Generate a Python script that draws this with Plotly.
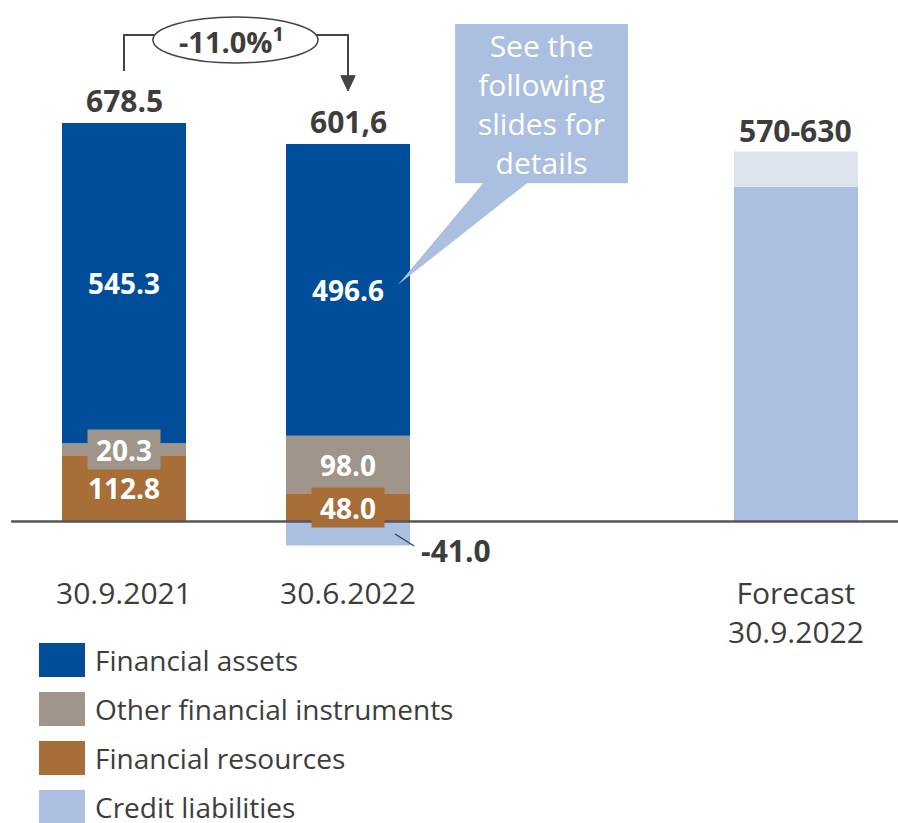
import plotly.graph_objects as go

# --- data -------------------------------------------------------------
categories = ["30.9.2021", "30.6.2022", "Forecast<br>30.9.2022"]
slots = [0, 1, 3]                      # x positions (gap before the forecast)

financial_resources = [112.8, 48.0]
other_instruments = [20.3, 98.0]
financial_assets = [545.3, 496.6]
credit_liabilities = [-41.0]           # only at 30.6.2022
forecast_low = 570
forecast_high = 630
total_labels = ["678.5", "601,6"]
change_label = "-11.0%<sup>1</sup>"
series_names = ["Financial assets", "Other financial instruments",
                "Financial resources", "Credit liabilities"]

# --- styling ----------------------------------------------------------
C_ASSETS = "#004d99"
C_OTHER = "#a0958a"
C_RES = "#a86e38"
C_CREDIT = "#abc0e1"
C_RANGE = "#dde4ee"
C_TEXT = "#3d3d3d"
FONT = "Open Sans"
BAR_W = 0.5536

W, H = 898, 823
Y_RANGE = [-513.4, 888.0]
X_RANGE = [-0.5536, 3.4554]

fig = go.Figure()

hist = slots[:2]
fig.add_bar(x=hist, y=financial_resources, name=series_names[2],
            marker_color=C_RES, width=BAR_W)
fig.add_bar(x=hist, y=other_instruments, name=series_names[1],
            marker_color=C_OTHER, width=BAR_W)
fig.add_bar(x=hist, y=financial_assets, name=series_names[0],
            marker_color=C_ASSETS, width=BAR_W)
fig.add_bar(x=[slots[1]], y=credit_liabilities, name=series_names[3],
            marker_color=C_CREDIT, width=BAR_W)
fig.add_bar(x=[slots[2]], y=[forecast_low], name="Forecast",
            marker_color=C_CREDIT, width=BAR_W)
fig.add_bar(x=[slots[2]], y=[forecast_high - forecast_low], name="Forecast range",
            marker_color=C_RANGE, width=BAR_W)
for tr in fig.data:
    tr.marker.line.width = 0

annotations = []
shapes = []

def label(x, y, text, color="white", size=28, bold=True, bg=None,
          w=None, h=None, xanchor="center", yanchor="middle", yref="y"):
    a = dict(x=x, y=y, xref="x", yref=yref, text=f"<b>{text}</b>" if bold else text,
             showarrow=False, xanchor=xanchor, yanchor=yanchor,
             font=dict(family=FONT, size=size, color=color))
    if bg:
        a.update(bgcolor=bg, borderpad=0)
    if w:
        a.update(width=w)
    if h:
        a.update(height=h)
    annotations.append(a)

# segment labels
tops = []
for i, x in enumerate(hist):
    r, o, a = financial_resources[i], other_instruments[i], financial_assets[i]
    label(x, r / 2, f"{r:.1f}", bg=C_RES if i == 1 else None,
          w=72 if i == 1 else None, h=39 if i == 1 else None)
    label(x, r + o / 2, f"{o:.1f}", bg=C_OTHER if i == 0 else None,
          w=72 if i == 0 else None, h=39 if i == 0 else None)
    label(x, r + o + a / 2, f"{a:.1f}")
    tops.append(r + o + a)
    label(x, tops[-1] + 38, total_labels[i], color=C_TEXT, size=30)

label(slots[2], forecast_high + 36, f"{forecast_low}-{forecast_high}",
      color=C_TEXT, size=30)

# credit liabilities label with leader line
cl = credit_liabilities[0]
shapes.append(dict(type="line", xref="x", yref="y", x0=1.21, y0=cl * 0.52,
                   x1=1.295, y1=cl * 1.02, line=dict(color=C_TEXT, width=1.3)))
label(1.315, cl - 8, f"{cl:.1f}", color=C_TEXT, size=30, xanchor="left")

# category labels
for x, c in zip(slots, categories):
    label(x, -83, c, color=C_TEXT, size=30, bold=False, yanchor="top")

# zero line
shapes.append(dict(type="line", xref="x", yref="y", x0=-0.504, x1=X_RANGE[1],
                   y0=0, y1=0, layer="above", line=dict(color="#555555", width=2.5)))

# change bracket between the two totals
y_start = 678.5 + 88.5
y_top = 678.5 + 150
y_tip = tops[1] + 90.5
y_head = y_tip + 26
shapes.append(dict(type="path", xref="x", yref="y",
                   path=f"M 0,{y_start} L 0,{y_top} L 1,{y_top} L 1,{y_head}",
                   line=dict(color="#444444", width=2)))
shapes.append(dict(type="path", xref="x", yref="y",
                   path=f"M 0.968,{y_head} L 1.032,{y_head} L 1,{y_tip} Z",
                   fillcolor="#444444", line=dict(color="#444444", width=1)))
shapes.append(dict(type="circle", xref="x", yref="y", x0=0.129, x1=0.866,
                   y0=780.7, y1=859, fillcolor="white",
                   line=dict(color="#444444", width=1.5)))
label(0.482, 820, change_label, color=C_TEXT, size=29)

# callout box
shapes.append(dict(type="path", xref="x", yref="y",
                   path=("M 1.478,847 L 2.25,847 L 2.25,576 L 1.799,576 "
                         "L 1.223,403 L 1.603,576 L 1.478,576 Z"),
                   fillcolor=C_CREDIT, line=dict(width=0), layer="above"))
label(1.866, 711, "See the<br>following<br>slides for<br>details",
      bold=False, size=30)

# legend
leg_colors = [C_ASSETS, C_OTHER, C_RES, C_CREDIT]
for i, (name, col) in enumerate(zip(series_names, leg_colors)):
    top = 643 + 49 * i
    shapes.append(dict(type="rect", xref="paper", yref="paper",
                       x0=39 / W, x1=85 / W, y0=1 - (top + 34) / H, y1=1 - top / H,
                       fillcolor=col, line=dict(width=0)))
    annotations.append(dict(x=93 / W, y=1 - (top + 17) / H, xref="paper", yref="paper",
                            text=name, showarrow=False, xanchor="left", yanchor="middle",
                            font=dict(family=FONT, size=28, color=C_TEXT)))

fig.update_layout(
    width=W, height=H, autosize=False,
    margin=dict(l=0, r=0, t=0, b=0),
    barmode="relative", showlegend=False,
    plot_bgcolor="white", paper_bgcolor="white",
    xaxis=dict(range=X_RANGE, visible=False, fixedrange=True),
    yaxis=dict(range=Y_RANGE, visible=False, fixedrange=True),
    annotations=annotations, shapes=shapes,
)

fig.write_html("out.html", config={"displayModeBar": False})
